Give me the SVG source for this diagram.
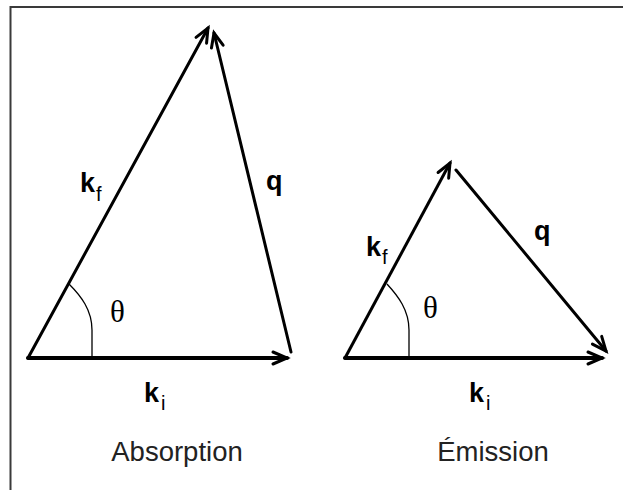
<svg xmlns="http://www.w3.org/2000/svg" width="623" height="490" viewBox="0 0 623 490">
<defs>
<marker id="ah" markerUnits="userSpaceOnUse" markerWidth="30" markerHeight="30" viewBox="-20 -15 30 30" refX="0" refY="0" orient="auto">
<path d="M-14,-6 L0,0 L-14,6" fill="none" stroke="#000" stroke-width="3" stroke-linecap="round" stroke-linejoin="miter"/>
</marker>
<style>
.v{stroke:#000;fill:none;stroke-linecap:round}
.thin{stroke-width:3}
.thick{stroke-width:4}
.arc{stroke:#000;fill:none;stroke-width:1.3}
.lb{font-family:"Liberation Sans",Arial,sans-serif;font-weight:bold;font-size:27px;fill:#000}
.sub{font-family:"Liberation Sans",Arial,sans-serif;font-weight:normal;font-size:20px;fill:#000}
.th{font-family:"Liberation Serif","Times New Roman",serif;font-size:31px;fill:#000}
.cap{font-family:"Liberation Sans",Arial,sans-serif;font-size:27.5px;fill:#222;text-anchor:middle}
</style>
</defs>
<rect width="623" height="490" fill="#fff"/>
<rect x="10.5" y="7" width="700" height="600" fill="none" stroke="#3a3a3a" stroke-width="2"/>
<g id="connectors">
<line id="abs-ki" class="v thick" x1="28" y1="358" x2="287" y2="358" marker-end="url(#ah)"/>
<line id="abs-kf" class="v thin" x1="28" y1="358" x2="208" y2="28" marker-end="url(#ah)"/>
<line id="abs-q" class="v thin" x1="291" y1="352" x2="214" y2="33" marker-end="url(#ah)"/>
<path id="abs-arc" class="arc" d="M92,358 L92,330 C92,310 81,296 69,284"/>
<line id="em-ki" class="v thick" x1="345" y1="358" x2="602" y2="358" marker-end="url(#ah)"/>
<line id="em-kf" class="v thin" x1="345" y1="358" x2="450" y2="163" marker-end="url(#ah)"/>
<line id="em-q" class="v thin" x1="456" y1="170" x2="606" y2="351" marker-end="url(#ah)"/>
<path id="em-arc" class="arc" d="M409,358 L409,330 C409,310 398,296 387,284"/>
</g>
<g id="absorption">
<text class="lb" x="80" y="192">k<tspan class="sub" x="96" y="201">f</tspan></text>
<text class="lb" x="266" y="190">q</text>
<text class="th" x="110" y="322">θ</text>
<text class="lb" x="144" y="402">k<tspan class="sub" x="161" y="410">i</tspan></text>
<text class="cap" x="177" y="461">Absorption</text>
</g>
<g id="emission">
<text class="lb" x="366" y="256">k<tspan class="sub" x="382" y="264">f</tspan></text>
<text class="lb" x="534" y="240">q</text>
<text class="th" x="423" y="318">θ</text>
<text class="lb" x="469" y="402">k<tspan class="sub" x="486" y="410">i</tspan></text>
<text class="cap" x="493" y="461">Émission</text>
</g>
</svg>
